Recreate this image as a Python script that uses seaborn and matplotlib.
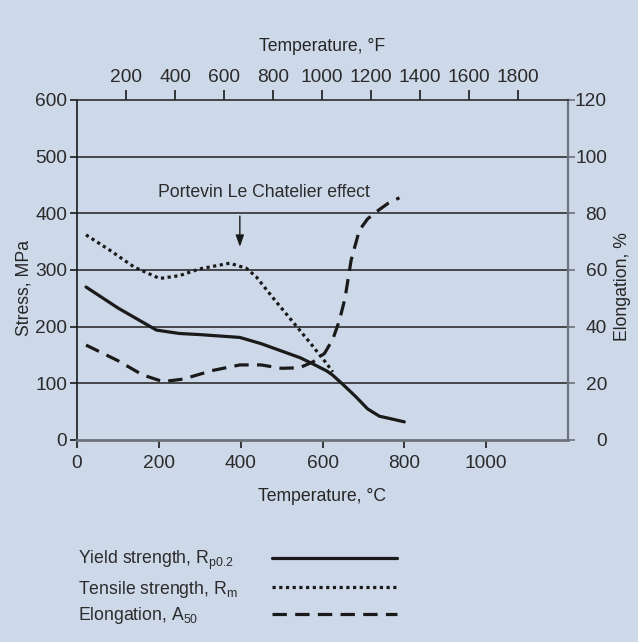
import numpy as np
import pandas as pd
import seaborn as sns
import matplotlib.pyplot as plt
from matplotlib.lines import Line2D

# values
yield_temp = [22, 100, 194, 250, 300, 398, 450, 500, 546, 580, 610, 624, 650, 682, 710, 739, 770, 800]
yield_stress = [270, 233, 194, 188, 186, 181, 170, 157, 145, 133, 122, 115, 98, 76, 55, 42, 37, 32]

tensile_temp = [22, 80, 140, 202, 250, 300, 373, 414, 438, 480, 520, 544, 560, 577, 593, 609, 625]
tensile_stress = [362, 335, 305, 285, 290, 302, 312, 303, 288, 250, 215, 194, 180, 165, 150, 136, 120]

elong_temp = [22, 100, 160, 210, 260, 330, 398, 450, 500, 544, 577, 605, 625, 641, 655, 670, 690, 710, 731, 760, 788]
elong_pct = [33.5, 28, 23, 20.6, 21.5, 24.5, 26.5, 26.5, 25.3, 25.5, 27.6, 30.6, 35.5, 42, 50, 63.5, 74, 78, 80.5, 83.5, 85.5]

stress_ticks = [0, 100, 200, 300, 400, 500, 600]
elong_ticks = [0, 20, 40, 60, 80, 100, 120]
c_ticks = [0, 200, 400, 600, 800, 1000]
f_ticks = [200, 400, 600, 800, 1000, 1200, 1400, 1600, 1800]

legend_labels = ["Yield strength, R$_\\mathrm{p0.2}$",
                 "Tensile strength, R$_\\mathrm{m}$",
                 "Elongation, A$_\\mathrm{50}$"]

bg = "#cdd8e9"
ink = "#1a1a1a"
grey = "#6e727a"
txt = "#2b2b2b"

sns.set_style("white")
plt.rcParams['font.family'] = ['Liberation Sans', 'DejaVu Sans']
plt.rcParams['mathtext.fontset'] = 'custom'
plt.rcParams['mathtext.rm'] = 'Liberation Sans'
plt.rcParams['text.color'] = txt

W, H = 638, 642
fig = plt.figure(figsize=(W / 100, H / 100), dpi=100, facecolor=bg)
ax = fig.add_axes([77 / W, 1 - 440 / H, 491 / W, 340 / H])
ax.set_facecolor(bg)

lw = 2.3
solid_style = dict(color=ink, lw=lw, linestyle='-')
dot_style = dict(color=ink, lw=lw, linestyle=(0, (1.0, 1.1)))
dash_style = dict(color=ink, lw=lw, linestyle=(0, (4.5, 2.6)))

df_yield = pd.DataFrame({"T": yield_temp, "v": yield_stress})
df_tens = pd.DataFrame({"T": tensile_temp, "v": tensile_stress})
df_el = pd.DataFrame({"T": elong_temp, "v": elong_pct})

sns.lineplot(data=df_yield, x="T", y="v", ax=ax, sort=False, **solid_style)
sns.lineplot(data=df_tens, x="T", y="v", ax=ax, sort=False, **dot_style)

label_size = 12.7
tick_size = 13.8

ax.set_xlim(0, 1200)
ax.set_ylim(0, 600)
ax.set_xticks(c_ticks)
ax.set_yticks(stress_ticks)
ax.set_xticklabels([str(t) for t in c_ticks], size=tick_size, color=txt)
ax.set_yticklabels([str(t) for t in stress_ticks], size=tick_size, color=txt)
ax.tick_params(axis='x', direction='out', length=6, width=1.2, color=ink, pad=5)
ax.tick_params(axis='y', direction='out', length=5, width=1.2, color=ink, pad=2)
ax.set_xlabel("Temperature, °C", fontsize=label_size, labelpad=11)
ax.set_ylabel("Stress, MPa", fontsize=label_size)
ax.yaxis.set_label_coords(-0.091, 0.447)

for y in stress_ticks[1:-1]:
    ax.axhline(y, color='#2e2e2e', lw=1.2, zorder=0.5)

for s in ['top', 'right']:
    ax.spines[s].set_visible(False)
ax.spines['left'].set_color(ink)
ax.spines['left'].set_linewidth(1.2)
ax.spines['bottom'].set_color(grey)
ax.spines['bottom'].set_linewidth(2.0)

# elongation on the right axis
ax2 = ax.twinx()
sns.lineplot(data=df_el, x="T", y="v", ax=ax2, sort=False, **dash_style)
ax2.set_ylim(0, 120)
ax2.set_xlim(0, 1200)
ax2.set_yticks(elong_ticks)
ax2.set_yticklabels([str(t) for t in elong_ticks], size=tick_size, color=txt, ha='right')
ax2.tick_params(axis='y', direction='out', length=5, width=1.2, color=grey, pad=23)
ax2.set_ylabel("Elongation, %", fontsize=label_size)
ax2.yaxis.set_label_coords(1.094, 0.45)
ax2.set_xlabel("")
for s in ['top', 'left', 'bottom']:
    ax2.spines[s].set_visible(False)
ax2.spines['right'].set_color(grey)
ax2.spines['right'].set_linewidth(1.6)

# Fahrenheit scale on top
ax3 = ax.twiny()
ax3.set_xlim(0, 2004)
ax3.set_xticks(f_ticks)
ax3.set_xticklabels([str(t) for t in f_ticks], size=tick_size, color=txt)
ax3.tick_params(axis='x', direction='out', length=7, width=1.2, color=ink, pad=3)
ax3.set_xlabel("Temperature, °F", fontsize=label_size, labelpad=13)
for s in ['right', 'left', 'bottom']:
    ax3.spines[s].set_visible(False)
ax3.spines['top'].set_color('#2e2e2e')
ax3.spines['top'].set_linewidth(1.2)

# annotation
ax.text(458, 437, "Portevin Le Chatelier effect", ha='center', va='center', fontsize=label_size)
ax.annotate("", xy=(398, 336), xytext=(398, 400),
            arrowprops=dict(arrowstyle='-|>,head_length=0.7,head_width=0.25', color=ink, lw=1.0))

# legend: text on the left, sample line on the right
legend_styles = [solid_style, dot_style, dash_style]
row_y = [558, 587, 614]
for lab, st, ry in zip(legend_labels, legend_styles, row_y):
    fig.text(78 / W, 1 - (ry + 2) / H, lab, ha='left', va='center', fontsize=label_size)
    fig.add_artist(Line2D([272 / W, 397 / W], [1 - ry / H, 1 - ry / H],
                          transform=fig.transFigure, **st))

fig.savefig("out.png", dpi=100, facecolor=bg)
